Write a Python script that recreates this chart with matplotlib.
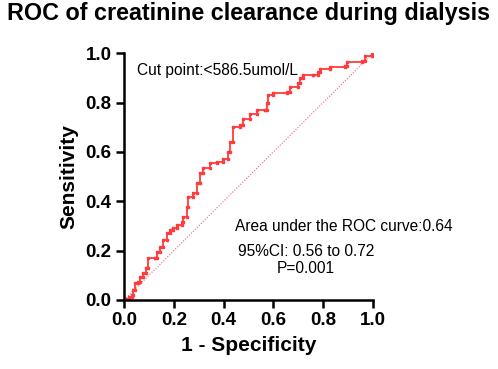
import numpy as np
import matplotlib.pyplot as plt

plt.rcParams['font.family'] = ['Liberation Sans', 'DejaVu Sans']

# ROC points (1 - specificity, sensitivity)
fpr = [0.0, 0.012, 0.020, 0.031, 0.037, 0.044, 0.057, 0.064, 0.077, 0.088, 0.098,
       0.124, 0.131, 0.145, 0.158, 0.171, 0.185, 0.198, 0.211, 0.231, 0.238,
       0.251, 0.258, 0.278, 0.292, 0.305, 0.318, 0.345, 0.372, 0.398, 0.418,
       0.426, 0.436, 0.466, 0.479, 0.506, 0.533, 0.566, 0.573, 0.579, 0.600,
       0.653, 0.667, 0.700, 0.707, 0.720, 0.760, 0.780, 0.787, 0.827, 0.888,
       0.894, 0.954, 0.968, 0.995, 1.0]
tpr = [0.0, 0.006, 0.013, 0.020, 0.040, 0.068, 0.074, 0.094, 0.108, 0.128, 0.169,
       0.169, 0.196, 0.216, 0.243, 0.270, 0.283, 0.290, 0.304, 0.317, 0.338,
       0.378, 0.418, 0.432, 0.472, 0.513, 0.533, 0.553, 0.560, 0.573, 0.600,
       0.640, 0.700, 0.708, 0.735, 0.755, 0.769, 0.769, 0.796, 0.830, 0.837,
       0.843, 0.864, 0.877, 0.898, 0.911, 0.911, 0.925, 0.934, 0.945, 0.947,
       0.964, 0.968, 0.988, 0.996, 1.0]

# staircase version of the curve
sx = [fpr[0]]
sy = [tpr[0]]
for i in range(1, len(fpr)):
    sx.append(fpr[i])
    sy.append(tpr[i-1])
    sx.append(fpr[i])
    sy.append(tpr[i])

fig = plt.figure(figsize=(4.98, 3.69), dpi=100)
ax = fig.add_axes([0.249, 0.187, 0.5, 0.669])

red = '#ff3b3b'
ax.plot([0, 1], [0, 1], color='#f06080', lw=0.8, linestyle=(0, (1, 1.5)))
ax.plot(sx, sy, color=red, lw=1.3, marker='s', markersize=1.8)

ax.set_xlim(0, 1)
ax.set_ylim(0, 1)
ax.set_xticks(np.arange(0, 1.01, 0.2))
ax.set_yticks(np.arange(0, 1.01, 0.2))
ax.set_xticklabels(['0.0', '0.2', '0.4', '0.6', '0.8', '1.0'])
ax.set_yticklabels(['0.0', '0.2', '0.4', '0.6', '0.8', '1.0'])
for lab in ax.get_xticklabels() + ax.get_yticklabels():
    lab.set_fontweight('bold')
    lab.set_fontsize(13.5)
ax.tick_params(width=1.8, length=6, pad=3)
ax.spines['top'].set_visible(False)
ax.spines['right'].set_visible(False)
ax.spines['left'].set_linewidth(1.8)
ax.spines['bottom'].set_linewidth(1.8)

ax.set_xlabel('1 - Specificity', fontsize=15, fontweight='bold', labelpad=5)
ax.set_ylabel('Sensitivity', fontsize=15, fontweight='bold', labelpad=5)

fig.text(0.5, 0.963, 'ROC of creatinine clearance during dialysis',
         ha='center', va='center', fontsize=16.8, fontweight='bold')

ax.text(0.052, 0.93, 'Cut point:<586.5umol/L', fontsize=11.2, ha='left', va='center')
ax.text(0.447, 0.296, 'Area under the ROC curve:0.64', fontsize=11.2, ha='left', va='center')
ax.text(0.73, 0.196, '95%CI: 0.56 to 0.72', fontsize=11.2, ha='center', va='center')
ax.text(0.73, 0.128, 'P=0.001', fontsize=11.2, ha='center', va='center')

fig.savefig('out.png', dpi=100)
